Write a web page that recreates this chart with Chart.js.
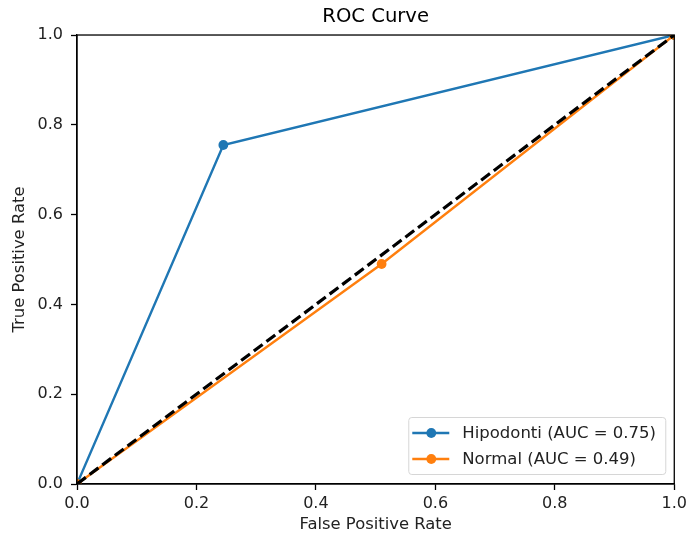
<!DOCTYPE html>
<html>
<head>
<meta charset="utf-8">
<script src="https://cdn.jsdelivr.net/npm/chart.js@4/dist/chart.umd.min.js"></script>
<style>
  body { margin: 0; background: #fff; }
  canvas { display: block; }
</style>
</head>
<body>
<canvas id="roc" width="691" height="537"></canvas>
<script>
// ROC points
var fprHipodonti = [0, 0.245, 1];
var tprHipodonti = [0, 0.755, 1];
var fprNormal = [0, 0.51, 1];
var tprNormal = [0, 0.49, 1];
var diagX = [0, 1];
var diagY = [0, 1];
var seriesLabels = ["Hipodonti (AUC = 0.75)", "Normal (AUC = 0.49)"];
var tickValues = [0, 0.2, 0.4, 0.6, 0.8, 1.0];

var FONT = "'DejaVu Sans', sans-serif";

function toPoints(xs, ys) {
  var pts = [];
  for (var i = 0; i < xs.length; i++) pts.push({x: xs[i], y: ys[i]});
  return pts;
}

// spines on top of the lines, then the legend box inside lower right
var framePlugin = {
  id: 'frame',
  afterDatasetsDraw: function(chart) {
    var a = chart.chartArea, ctx = chart.ctx;
    ctx.save();
    ctx.strokeStyle = '#000';
    ctx.lineWidth = 1.3;
    ctx.strokeRect(a.left, a.top, a.right - a.left, a.bottom - a.top);
    ctx.restore();
  },
  afterDraw: function(chart) {
    var a = chart.chartArea, ctx = chart.ctx;
    var w = 257, h = 57;
    var x0 = a.right - 9 - w, y0 = a.bottom - 10 - h;
    ctx.save();
    ctx.fillStyle = 'rgba(255,255,255,0.8)';
    ctx.strokeStyle = '#d6d6d6';
    ctx.lineWidth = 1;
    ctx.beginPath();
    ctx.roundRect(x0 + 0.5, y0 + 0.5, w, h, 3);
    ctx.fill();
    ctx.stroke();
    ctx.font = '16.5px ' + FONT;
    ctx.textBaseline = 'middle';
    var sets = [chart.data.datasets[0], chart.data.datasets[1]];
    for (var i = 0; i < sets.length; i++) {
      var yy = y0 + 16 + i * 26;
      ctx.strokeStyle = sets[i].borderColor;
      ctx.lineWidth = 2.4;
      ctx.beginPath();
      ctx.moveTo(x0 + 4, yy);
      ctx.lineTo(x0 + 41, yy);
      ctx.stroke();
      ctx.fillStyle = sets[i].borderColor;
      ctx.beginPath();
      ctx.arc(x0 + 23, yy, 4.9, 0, Math.PI * 2);
      ctx.fill();
      ctx.fillStyle = '#222';
      ctx.fillText(sets[i].label, x0 + 54, yy + 1);
    }
    ctx.restore();
  }
};

var ctx = document.getElementById('roc').getContext('2d');
var chart = new Chart(ctx, {
  type: 'line',
  data: {
    datasets: [{
      label: seriesLabels[0],
      data: toPoints(fprHipodonti, tprHipodonti),
      borderColor: '#1f77b4',
      backgroundColor: '#1f77b4',
      borderWidth: 2.4,
      pointRadius: 4.9,
      pointBorderWidth: 0,
      clip: 0,
      order: 3
    }, {
      label: seriesLabels[1],
      data: toPoints(fprNormal, tprNormal),
      borderColor: '#ff7f0e',
      backgroundColor: '#ff7f0e',
      borderWidth: 2.4,
      pointRadius: 4.9,
      pointBorderWidth: 0,
      clip: 0,
      order: 2
    }, {
      label: 'diag',
      data: toPoints(diagX, diagY),
      borderColor: '#000',
      borderWidth: 3.2,
      borderDash: [11, 4.8],
      pointRadius: 0,
      clip: 0,
      order: 1
    }]
  },
  options: {
    responsive: false,
    animation: false,
    layout: { padding: { left: 0, right: 13, top: 0, bottom: 0 } },
    plugins: {
      legend: { display: false },
      tooltip: { enabled: false },
      title: {
        display: true,
        text: 'ROC Curve',
        fullSize: false,
        color: '#000',
        font: { family: FONT, size: 19.6, weight: 'normal' },
        padding: { top: 5.3, bottom: 6.2 }
      }
    },
    scales: {
      x: {
        type: 'linear',
        min: 0,
        max: 1,
        afterBuildTicks: function(s) { s.ticks = tickValues.map(function(v) { return {value: v}; }); },
        afterFit: function(s) { s.height = 53; },
        grid: { drawOnChartArea: false, drawTicks: true, tickLength: 6, color: '#000', tickWidth: 1.3 },
        border: { display: true, color: '#000', width: 1.3 },
        ticks: {
          color: '#222',
          padding: 4,
          font: { family: FONT, size: 16 },
          maxRotation: 0,
          callback: function(v) { return Number(v).toFixed(1); }
        },
        title: {
          display: true,
          text: 'False Positive Rate',
          color: '#222',
          font: { family: FONT, size: 16.4 },
          padding: { top: 0, bottom: 2.2 }
        }
      },
      y: {
        type: 'linear',
        min: 0,
        max: 1,
        afterBuildTicks: function(s) { s.ticks = tickValues.map(function(v) { return {value: v}; }); },
        afterFit: function(s) { s.width = 77; },
        grid: { drawOnChartArea: false, drawTicks: true, tickLength: 6, color: '#000', tickWidth: 1.3 },
        border: { display: true, color: '#000', width: 1.3 },
        ticks: {
          color: '#222',
          padding: 8,
          font: { family: FONT, size: 16 },
          callback: function(v) { return Number(v).toFixed(1); }
        },
        title: {
          display: true,
          text: 'True Positive Rate',
          color: '#222',
          font: { family: FONT, size: 16.4 },
          padding: { top: 10.2, bottom: 0 }
        }
      }
    }
  },
  plugins: [framePlugin]
});
</script>
</body>
</html>
